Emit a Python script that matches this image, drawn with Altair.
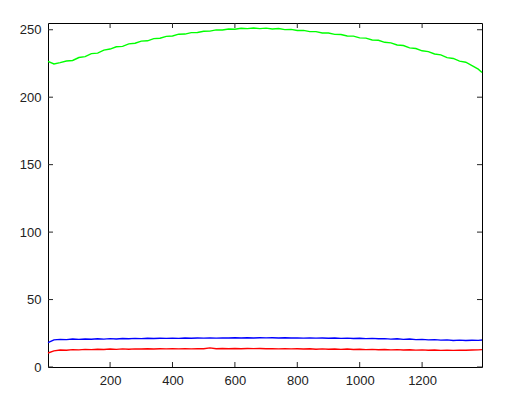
import altair as alt
import pandas as pd

# x positions (pixel column index)
x_vals = [1, 20, 40, 60, 80, 100, 120, 140, 160, 180, 200, 220, 240, 260, 280, 300,
          320, 340, 360, 380, 400, 420, 440, 460, 480, 500, 520, 540, 560, 580, 600,
          620, 640, 660, 680, 700, 720, 740, 760, 780, 800, 820, 840, 860, 880, 900,
          920, 940, 960, 980, 1000, 1020, 1040, 1060, 1080, 1100, 1120, 1140, 1160,
          1180, 1200, 1220, 1240, 1260, 1280, 1300, 1320, 1340, 1360, 1380, 1392]

green_vals = [226.6, 224.6, 225.6, 226.8, 227.2, 229.4, 230.1, 232.3, 232.7, 234.9, 235.7,
              237.4, 237.7, 239.5, 240.0, 241.6, 241.8, 243.4, 243.7, 245.1, 245.4, 246.7,
              246.8, 247.9, 248.0, 248.9, 249.0, 249.9, 249.8, 250.6, 250.4, 251.1, 250.8,
              251.3, 250.8, 251.2, 250.6, 250.9, 250.1, 250.3, 249.4, 249.5, 248.6, 248.6,
              247.6, 247.6, 246.6, 246.5, 245.4, 245.3, 244.0, 243.8, 242.4, 242.2, 240.7,
              240.3, 238.7, 238.3, 236.6, 236.1, 234.4, 233.8, 232.0, 231.4, 229.3, 228.7,
              226.7, 225.9, 223.4, 220.8, 218.3]

blue_vals = [18.0, 20.1, 20.5, 20.3, 20.7, 20.5, 20.8, 20.6, 20.9, 20.7, 21.0, 20.8, 21.1,
             20.9, 21.2, 21.0, 21.3, 21.1, 21.3, 21.2, 21.4, 21.2, 21.5, 21.3, 21.5, 21.4,
             21.6, 21.4, 21.6, 21.5, 21.7, 21.5, 21.7, 21.5, 21.7, 21.6, 21.7, 21.5, 21.7,
             21.5, 21.6, 21.4, 21.6, 21.4, 21.5, 21.3, 21.5, 21.2, 21.4, 21.1, 21.3, 21.0,
             21.2, 20.9, 21.0, 20.7, 20.9, 20.5, 20.7, 20.3, 20.5, 20.1, 20.3, 19.9, 20.1,
             19.7, 19.9, 19.6, 19.8, 19.7, 20.0]

red_vals = [10.4, 12.0, 12.6, 12.4, 12.9, 12.7, 13.1, 12.9, 13.2, 13.0, 13.3, 13.1, 13.4,
            13.2, 13.4, 13.3, 13.5, 13.3, 13.5, 13.4, 13.6, 13.4, 13.6, 13.4, 13.6, 13.5,
            14.2, 13.5, 13.7, 13.5, 13.7, 13.5, 13.7, 13.6, 13.7, 13.5, 13.6, 13.4, 13.6,
            13.4, 13.5, 13.3, 13.5, 13.2, 13.4, 13.2, 13.3, 13.1, 13.3, 13.0, 13.2, 12.9,
            13.1, 12.8, 13.0, 12.7, 12.9, 12.6, 12.8, 12.5, 12.7, 12.4, 12.6, 12.3, 12.5,
            12.3, 12.5, 12.4, 12.6, 12.7, 12.9]

series_names = ["green", "blue", "red"]
series_colors = ["#00ff00", "#0000ff", "#ff0000"]

x_ticks = [200, 400, 600, 800, 1000, 1200]
y_ticks = [0, 50, 100, 150, 200, 250]

W, H = 434, 344
TL = 5
TICK_COLOR = "#262626"

rows = []
for name, vals in zip(series_names, [green_vals, blue_vals, red_vals]):
    for xv, yv in zip(x_vals, vals):
        rows.append({"x": xv, "y": yv, "s": name})
df = pd.DataFrame(rows)

xscale = alt.Scale(domain=[1, 1392], nice=False, zero=False)
yscale = alt.Scale(domain=[0, 255], nice=False)

font = "Liberation Sans"
xaxis = alt.Axis(values=x_ticks, format="d", title="", labelFont=font, labelFontSize=13,
                 labelColor="#222222", labelPadding=7, ticks=False, domain=False, grid=False)
yaxis = alt.Axis(values=y_ticks, format="d", title="", labelFont=font, labelFontSize=13,
                 labelColor="#222222", labelPadding=7, ticks=False, domain=False, grid=False)

lines = alt.Chart(df).mark_line(strokeWidth=1.4).encode(
    x=alt.X("x:Q", scale=xscale, axis=xaxis),
    y=alt.Y("y:Q", scale=yscale, axis=yaxis),
    color=alt.Color("s:N", scale=alt.Scale(domain=series_names, range=series_colors), legend=None),
    detail="s:N",
)

xt = pd.DataFrame({"x": x_ticks})
yt = pd.DataFrame({"y": y_ticks})

bottom_ticks = alt.Chart(xt).mark_rule(color=TICK_COLOR, strokeWidth=1).encode(
    x=alt.X("x:Q", scale=xscale, axis=xaxis), y=alt.value(H), y2=alt.value(H - TL))
top_ticks = alt.Chart(xt).mark_rule(color=TICK_COLOR, strokeWidth=1).encode(
    x=alt.X("x:Q", scale=xscale, axis=xaxis), y=alt.value(0), y2=alt.value(TL))
left_ticks = alt.Chart(yt).mark_rule(color=TICK_COLOR, strokeWidth=1).encode(
    y=alt.Y("y:Q", scale=yscale, axis=yaxis), x=alt.value(0), x2=alt.value(TL))
right_ticks = alt.Chart(yt).mark_rule(color=TICK_COLOR, strokeWidth=1).encode(
    y=alt.Y("y:Q", scale=yscale, axis=yaxis), x=alt.value(W), x2=alt.value(W - TL))

chart = alt.layer(lines, bottom_ticks, top_ticks, left_ticks, right_ticks).properties(
    width=W, height=H,
    autosize=alt.AutoSizeParams(type="none"),
    padding={"left": 40, "top": 15, "right": 10, "bottom": 30},
    background="white",
).configure_view(stroke="#000000", strokeWidth=1)

chart.save("out.html", embed_options={"renderer": "svg", "actions": False})
